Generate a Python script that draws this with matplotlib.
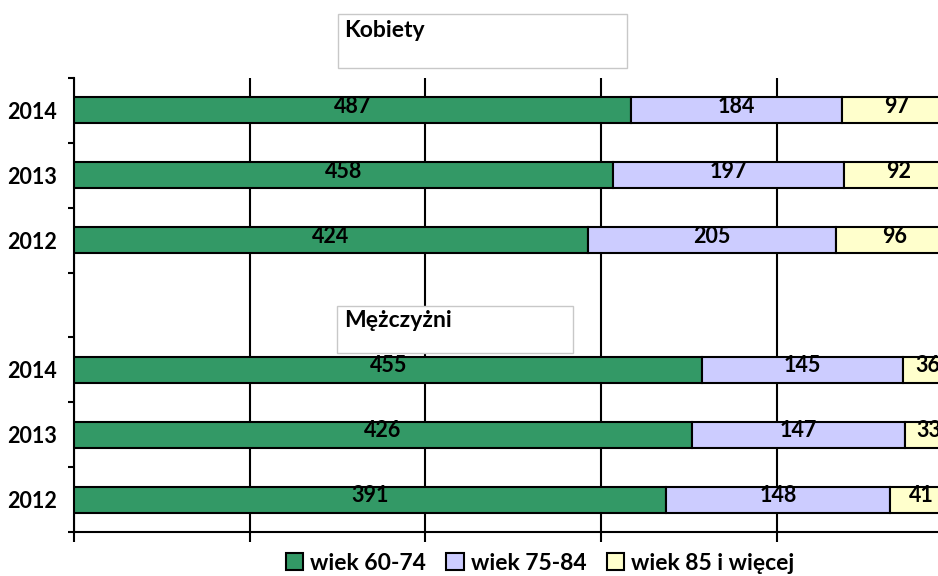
import matplotlib
matplotlib.use("Agg")
import matplotlib.pyplot as plt
from matplotlib.patches import Rectangle
import numpy as np

plt.rcParams["font.family"] = ["Lato", "DejaVu Sans"]
plt.rcParams["font.weight"] = "bold"

# Data (liczby osób wg grup wieku)
years = ["2012", "2013", "2014"]
age_groups = ["wiek 60-74", "wiek 75-84", "wiek 85 i więcej"]
kobiety_60_74 = [424, 458, 487]
kobiety_75_84 = [205, 197, 184]
kobiety_85 = [96, 92, 97]
mezczyzni_60_74 = [391, 426, 455]
mezczyzni_75_84 = [148, 147, 145]
mezczyzni_85 = [41, 33, 36]

colors = ["#339966", "#CCCCFF", "#FFFFCC"]

# men at rows 0-2, empty row 3, women at rows 4-6
rows_m = np.arange(3)
rows_k = np.arange(4, 7)

W, H = 938, 576
fig = plt.figure(figsize=(W / 100, H / 100), dpi=100)
ax = fig.add_axes([74 / W, 1 - 532 / H, 878.5 / W, 454 / H])


def stacked(rows, groups, with_label):
    vals = np.array(groups, dtype=float)
    shares = vals / vals.sum(axis=0) * 100
    left = np.zeros(len(rows))
    for i in range(len(groups)):
        ax.barh(rows, shares[i], left=left, height=0.4, color=colors[i],
                edgecolor="black", linewidth=1.5,
                label=age_groups[i] if with_label else None, zorder=3)
        for r, l, s, v in zip(rows, left, shares[i], vals[i]):
            ax.text(l + s / 2, r + 0.06, f"{v:.0f}", ha="center", va="center",
                    fontsize=15.5, fontweight="bold", color="black", zorder=4)
        left = left + shares[i]


stacked(rows_k, [kobiety_60_74, kobiety_75_84, kobiety_85], True)
stacked(rows_m, [mezczyzni_60_74, mezczyzni_75_84, mezczyzni_85], False)

ax.set_xlim(0, 100)
ax.set_ylim(-0.5, 6.5)
ax.set_xticks(np.arange(0, 101, 20))
ax.set_xticklabels([])
ax.tick_params(axis="x", direction="out", length=7, width=1.5, color="black")
ax.grid(axis="x", color="black", linewidth=1.5, zorder=1)
ax.set_axisbelow(True)

ax.set_yticks(list(rows_m) + list(rows_k))
ax.set_yticklabels(years + years, fontsize=15.5, fontweight="bold")
ax.set_yticks(np.arange(-0.5, 7, 1), minor=True)
ax.tick_params(axis="y", which="major", length=0, pad=12)
ax.tick_params(axis="y", which="minor", direction="out", length=4.5, width=1.5)

for side in ["top", "right"]:
    ax.spines[side].set_visible(False)
for side in ["left", "bottom"]:
    ax.spines[side].set_linewidth(1.5)
    ax.spines[side].set_color("black")

# section labels in boxes
for x0, y0, x1, y1, label, base in [(338, 14, 627, 68, "Kobiety", 37),
                                    (337, 306, 573, 353, "Mężczyżni", 327)]:
    fig.patches.append(Rectangle((x0 / W, 1 - y1 / H), (x1 - x0) / W, (y1 - y0) / H,
                                 transform=fig.transFigure, facecolor="white",
                                 edgecolor="#C8C8C8", linewidth=1, zorder=5))
    fig.text(344 / W, 1 - base / H, label, fontsize=16.5, fontweight="bold",
             va="baseline", ha="left", zorder=6)

handles, labels = ax.get_legend_handles_labels()
fig.legend(handles, labels, loc="center", ncol=3,
           bbox_to_anchor=(540 / W, 1 - 563 / H), frameon=False,
           prop={"size": 16.5, "weight": "bold"}, handlelength=0.75, handleheight=0.75,
           handletextpad=0.3, columnspacing=0.9, borderpad=0)

fig.savefig("out.png", dpi=100)
